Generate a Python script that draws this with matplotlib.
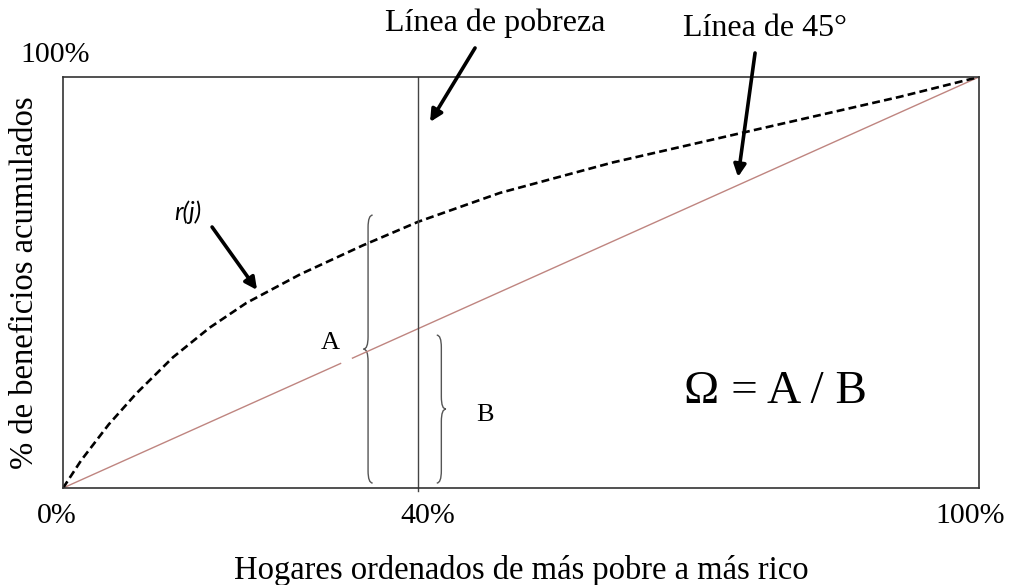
import numpy as np
import matplotlib
matplotlib.use("Agg")
import matplotlib.pyplot as plt
import matplotlib.transforms as mtransforms
from matplotlib.path import Path
from matplotlib.patches import PathPatch

# Datos (fracción acumulada de hogares / beneficios)
hogares = [0.0, 0.02, 0.05, 0.08, 0.12, 0.16, 0.20, 0.259, 0.327, 0.388, 0.477, 0.60, 0.745, 0.914, 1.0]
r_j = [0.0, 0.068, 0.155, 0.23, 0.318, 0.39, 0.45, 0.52, 0.59, 0.648, 0.718, 0.792, 0.866, 0.952, 1.0]
linea_45 = [0.0, 1.0]
hueco_45 = [0.303, 0.316]       # tramo de la línea de 45° tapado en el original
linea_pobreza = 0.388
llave_a = [0.012, 0.664]        # rango vertical de la llave A
llave_b = [0.012, 0.372]        # rango vertical de la llave B
xticks = [0.0, 0.4, 1.0]
xtick_labels = ["0%", "40%", "100%"]

plt.rcParams['font.family'] = ['Liberation Serif', 'DejaVu Serif']

fig = plt.figure(figsize=(10.12, 5.85), dpi=100)
ax = fig.add_axes([0.0623, 0.1658, 0.9051, 0.7026])

for s in ax.spines.values():
    s.set_linewidth(1.2)
    s.set_color('#333333')

# Línea de 45° con el pequeño hueco junto a la "A"
d = np.array(linea_45)
ax.plot([d[0], hueco_45[0]], [d[0], hueco_45[0]], color='#bf8580', lw=1.0)
ax.plot([hueco_45[1], d[1]], [hueco_45[1], d[1]], color='#bf8580', lw=1.0)

# Curva r(j)
ax.plot(hogares, r_j, color='black', lw=1.9, dashes=(3, 1.6))

# Línea de pobreza
ax.plot([linea_pobreza, linea_pobreza], [-0.008, 1.0], color='#444444', lw=1.0, clip_on=False)


def llave(ax, x, y0, y1, w, h, lado):
    # lado = -1 -> "{" (punta a la izquierda), lado = 1 -> "}"
    ym = (y0 + y1) / 2
    xe = x - lado * w
    xt = x + lado * w
    verts = [(xe, y1), (x, y1), (x, y1 - h),
             (x, ym + h),
             (x, ym), (xt, ym),
             (x, ym), (x, ym - h),
             (x, y0 + h),
             (x, y0), (xe, y0)]
    codes = [Path.MOVETO, Path.CURVE3, Path.CURVE3,
             Path.LINETO,
             Path.CURVE3, Path.CURVE3,
             Path.CURVE3, Path.CURVE3,
             Path.LINETO,
             Path.CURVE3, Path.CURVE3]
    ax.add_patch(PathPatch(Path(verts, codes), fill=False, ec='#555555', lw=1.0))


llave(ax, 0.333, llave_a[0], llave_a[1], 0.005, 0.03, -1)
llave(ax, 0.413, llave_b[0], llave_b[1], 0.005, 0.03, 1)

# Ejes
ax.set_xticks(xticks)
ax.set_xticklabels(xtick_labels)
ax.set_yticks([])
ax.set_xlim(0, 1)
ax.set_ylim(0, 1)
ax.tick_params(axis='x', length=0, pad=11, labelsize=21.5)
# corrimiento horizontal de cada etiqueta (en pulgadas) como en el original
for lbl, dx in zip(ax.get_xticklabels(), [-0.06, -0.02, -0.09]):
    lbl.set_transform(lbl.get_transform() + mtransforms.ScaledTranslation(dx, 0, fig.dpi_scale_trans))
ax.text(-0.009, 1.054, "100%", fontsize=21.5, ha='center', va='center')

ax.set_xlabel("Hogares ordenados de más pobre a más rico", fontsize=23.5)
ax.xaxis.label.set_va('center')
ax.xaxis.set_label_coords(0.5, -0.2)
ax.set_ylabel("% de beneficios acumulados", fontsize=23.5)
ax.yaxis.label.set_va('center')
ax.yaxis.set_label_coords(-0.042, 0.5)

# Anotaciones
flecha = dict(arrowstyle='-|>', lw=2.6, color='black', mutation_scale=18, shrinkA=0, shrinkB=0)
ax.text(0.4716, 1.131, "Línea de pobreza", fontsize=23, ha='center', va='center', clip_on=False)
ax.annotate("", xy=(0.4007, 0.8905), xytext=(0.4498, 1.0706), arrowprops=flecha, annotation_clip=False)
ax.text(0.766, 1.119, "Línea de 45°", fontsize=23, ha='center', va='center', clip_on=False)
ax.annotate("", xy=(0.7369, 0.7567), xytext=(0.7555, 1.0584), arrowprops=flecha, annotation_clip=False)
ax.text(0.1365, 0.6715, "r(j)", fontsize=18, style='italic', family=['Lato', 'DejaVu Sans'],
        ha='center', va='center')
ax.annotate("", xy=(0.2118, 0.4818), xytext=(0.1627, 0.635), arrowprops=flecha)

ax.text(0.2915, 0.353, "A", fontsize=19, ha='center', va='center')
ax.text(0.4607, 0.178, "B", fontsize=19, ha='center', va='center')
ax.text(0.7773, 0.234, "Ω = A / B", fontsize=34, ha='center', va='center')

fig.savefig("out.png", dpi=100)
